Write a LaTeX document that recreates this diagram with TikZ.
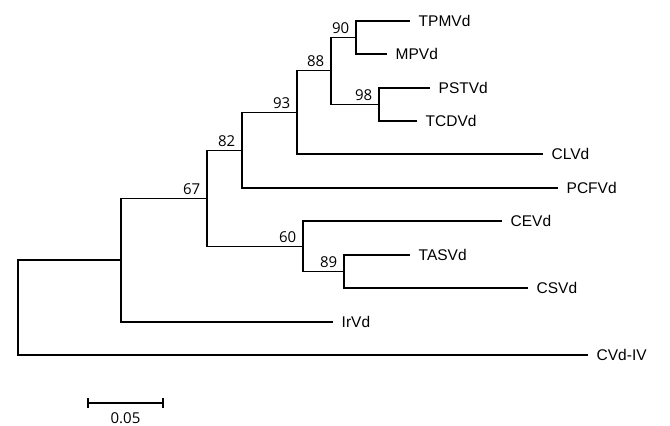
\documentclass[tikz,border=0pt]{standalone}
\usepackage{fontspec}
\setmainfont{Liberation Sans}
\newfontfamily\numfont{Open Sans}
\begin{document}
\begin{tikzpicture}[x=1pt,y=-1pt,line width=1.4pt,
  branch/.style={draw,line join=miter},
  leaf/.style={font=\fontsize{15.5}{15.5}\selectfont,inner sep=0pt,anchor=base west},
  boot/.style={font=\numfont\fontsize{15}{15}\selectfont,inner sep=0pt,anchor=base east}]
\useasboundingbox (0,0) rectangle (670,426);
% inner nodes
\coordinate (root) at (18,307.5);
\coordinate (na)   at (121,260);
\coordinate (n67)  at (207,198.5);
\coordinate (n82)  at (242,150.5);
\coordinate (n93)  at (297,112.5);
\coordinate (n88)  at (331,70.5);
\coordinate (n90)  at (356,37.5);
\coordinate (n98)  at (379,104.5);
\coordinate (n60)  at (303,246.5);
\coordinate (n89)  at (344,271.5);
% leaf ends
\coordinate (eTPMVd) at (410,21);
\coordinate (eMPVd)  at (387,54);
\coordinate (ePSTVd) at (430,88);
\coordinate (eTCDVd) at (417,121);
\coordinate (eCLVd)  at (543,154);
\coordinate (ePCFVd) at (558,188);
\coordinate (eCEVd)  at (502,221);
\coordinate (eTASVd) at (410,255);
\coordinate (eCSVd)  at (528,288);
\coordinate (eIrVd)  at (333,322);
\coordinate (eCVdIV) at (588,355);
% branches
\draw[branch] (root) |- (na);
\draw[branch] (root) |- (eCVdIV);
\draw[branch] (na) |- (n67);
\draw[branch] (na) |- (eIrVd);
\draw[branch] (n67) |- (n82);
\draw[branch] (n67) |- (n60);
\draw[branch] (n82) |- (n93);
\draw[branch] (n82) |- (ePCFVd);
\draw[branch] (n93) |- (n88);
\draw[branch] (n93) |- (eCLVd);
\draw[branch] (n88) |- (n90);
\draw[branch] (n88) |- (n98);
\draw[branch] (n90) |- (eTPMVd);
\draw[branch] (n90) |- (eMPVd);
\draw[branch] (n98) |- (ePSTVd);
\draw[branch] (n98) |- (eTCDVd);
\draw[branch] (n60) |- (eCEVd);
\draw[branch] (n60) |- (n89);
\draw[branch] (n89) |- (eTASVd);
\draw[branch] (n89) |- (eCSVd);
% leaf labels
\node[leaf] (lTPMVd) at ([shift={(8,5.5)}]eTPMVd) {TPMVd};
\node[leaf] (lMPVd)  at ([shift={(8,5.5)}]eMPVd) {MPVd};
\node[leaf] (lPSTVd) at ([shift={(8,5.5)}]ePSTVd) {PSTVd};
\node[leaf] (lTCDVd) at ([shift={(8,5.5)}]eTCDVd) {TCDVd};
\node[leaf] (lCLVd)  at ([shift={(8,5.5)}]eCLVd) {CLVd};
\node[leaf] (lPCFVd) at ([shift={(8,5.5)}]ePCFVd) {PCFVd};
\node[leaf] (lCEVd)  at ([shift={(8,5.5)}]eCEVd) {CEVd};
\node[leaf] (lTASVd) at ([shift={(8,5.5)}]eTASVd) {TASVd};
\node[leaf] (lCSVd)  at ([shift={(8,5.5)}]eCSVd) {CSVd};
\node[leaf] (lIrVd)  at ([shift={(8,5.5)}]eIrVd) {IrVd};
\node[leaf] (lCVdIV) at ([shift={(8,5.5)}]eCVdIV) {CVd-IV};
% bootstrap values
\node[boot] (b90) at ([shift={(-6,-4)}]n90) {90};
\node[boot] (b88) at ([shift={(-6,-4)}]n88) {88};
\node[boot] (b98) at ([shift={(-6,-4)}]n98) {98};
\node[boot] (b93) at ([shift={(-6,-4)}]n93) {93};
\node[boot] (b82) at ([shift={(-6,-4)}]n82) {82};
\node[boot] (b67) at ([shift={(-6,-4)}]n67) {67};
\node[boot] (b60) at ([shift={(-6,-4)}]n60) {60};
\node[boot] (b89) at ([shift={(-6,-4)}]n89) {89};
% scale bar
\coordinate (s1) at (88,403);
\coordinate (s2) at (163,403);
\draw (s1) -- (s2);
\draw ([shift={(0,-5)}]s1) -- ([shift={(0,5)}]s1);
\draw ([shift={(0,-5)}]s2) -- ([shift={(0,5)}]s2);
\node[boot,anchor=base] (sl) at (125.5,423) {0.05};
\end{tikzpicture}
\end{document}
